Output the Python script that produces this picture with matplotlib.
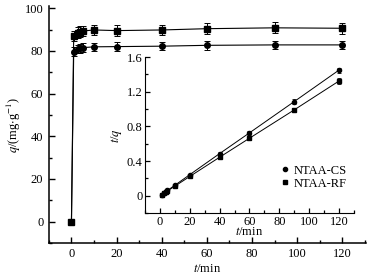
import matplotlib.pyplot as plt
from matplotlib.lines import Line2D
from matplotlib.ticker import MultipleLocator

plt.rcParams['font.family'] = ['Liberation Serif', 'DejaVu Serif']
plt.rcParams['mathtext.fontset'] = 'stix'
plt.rcParams['font.size'] = 9

# kinetic data, q vs t
t = [0, 1, 3, 4, 5, 10, 20, 40, 60, 90, 120]
q_cs = [0, 79.7, 80.8, 81.2, 81.5, 81.9, 82.0, 82.2, 82.6, 82.8, 82.8]
q_rf = [0, 87.0, 88.5, 89.0, 89.3, 89.8, 89.5, 89.8, 90.4, 90.8, 90.6]
err_cs = [0, 2.0, 2.0, 2.0, 2.0, 2.0, 2.0, 2.0, 2.0, 2.0, 2.0]
err_rf = [0, 2.5, 2.5, 2.5, 2.5, 2.5, 2.5, 2.5, 2.5, 2.5, 2.5]

# pseudo-second-order plot, t/q vs t
t2 = [1, 3, 4, 5, 10, 20, 40, 60, 90, 120]
tq_cs = [0.013, 0.037, 0.049, 0.061, 0.122, 0.244, 0.487, 0.726, 1.087, 1.450]
tq_rf = [0.011, 0.034, 0.045, 0.056, 0.111, 0.223, 0.445, 0.664, 0.991, 1.324]
err2_cs = [0.005, 0.005, 0.005, 0.005, 0.008, 0.01, 0.015, 0.02, 0.025, 0.03]
err2_rf = [0.005, 0.005, 0.005, 0.005, 0.008, 0.01, 0.015, 0.02, 0.025, 0.03]

fig = plt.figure(figsize=(3.88, 2.76), dpi=100)
ax = fig.add_axes([0.126, 0.120, 0.817, 0.858])

ax.errorbar(t, q_cs, yerr=err_cs, fmt='-o', color='black', ms=4, lw=0.8,
            elinewidth=0.7, capsize=2, capthick=0.7)
ax.errorbar(t, q_rf, yerr=err_rf, fmt='-s', color='black', ms=3.8, lw=0.8,
            elinewidth=0.7, capsize=2, capthick=0.7)

ax.set_xlim(-10, 130.5)
ax.set_ylim(-10, 101)
ax.set_xticks([0, 20, 40, 60, 80, 100, 120])
ax.set_yticks([0, 20, 40, 60, 80, 100])
ax.xaxis.set_minor_locator(MultipleLocator(10))
ax.yaxis.set_minor_locator(MultipleLocator(10))
for s in ['top', 'right']:
    ax.spines[s].set_visible(False)
for s in ['left', 'bottom']:
    ax.spines[s].set_linewidth(1.1)
ax.tick_params(which='major', direction='in', length=4.5, width=1, pad=4)
ax.tick_params(which='minor', direction='in', length=2.5, width=1)
ax.set_xlabel(r'$t$/min', labelpad=1.5)
ax.set_ylabel(r'$q$/(mg$\cdot$g$^{-1}$)')
ax.yaxis.set_label_coords(-0.082, 0.5)

# inset
ins = fig.add_axes([0.374, 0.228, 0.538, 0.565])
ins.errorbar(t2, tq_cs, yerr=err2_cs, fmt='-o', color='black', ms=3, lw=0.7,
             elinewidth=0.6, capsize=1.5, capthick=0.6)
ins.errorbar(t2, tq_rf, yerr=err2_rf, fmt='-s', color='black', ms=2.8, lw=0.7,
             elinewidth=0.6, capsize=1.5, capthick=0.6)
ins.set_xlim(-10, 130)
ins.set_ylim(-0.2, 1.6)
ins.set_xticks([0, 20, 40, 60, 80, 100, 120])
ins.set_yticks([0, 0.4, 0.8, 1.2, 1.6])
ins.set_yticklabels(['0', '0.4', '0.8', '1.2', '1.6'])
ins.xaxis.set_minor_locator(MultipleLocator(10))
ins.yaxis.set_minor_locator(MultipleLocator(0.2))
ins.patch.set_alpha(0)
for s in ['top', 'right']:
    ins.spines[s].set_visible(False)
ins.tick_params(which='major', direction='in', length=3.5, width=0.9, pad=2)
ins.tick_params(which='minor', direction='in', length=2, width=0.9)
ins.set_xlabel(r'$t$/min', labelpad=-1)
ins.set_ylabel(r'$t$/$q$', labelpad=2)

handles = [Line2D([], [], marker='o', ls='', color='black', ms=3),
           Line2D([], [], marker='s', ls='', color='black', ms=2.6)]
ins.legend(handles, ['NTAA-CS', 'NTAA-RF'], loc='center left',
           bbox_to_anchor=(0.62, 0.23), frameon=False, handlelength=0.6,
           handletextpad=0.4, labelspacing=0.1, borderpad=0)

plt.savefig('out.png', dpi=100)
